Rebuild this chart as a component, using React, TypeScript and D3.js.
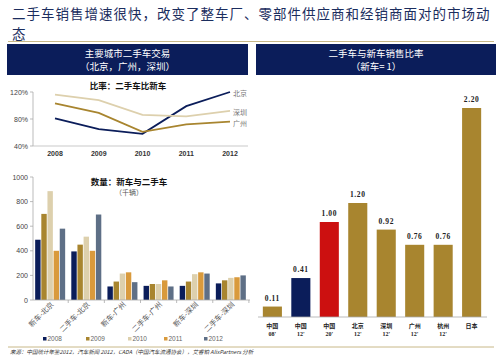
import React from "react";
import * as d3 from "d3";

const titleLine1 = "二手车销售增速很快，改变了整车厂、零部件供应商和经销商面对的市场动";
const titleLine2 = "态";

const years = ["2008", "2009", "2010", "2011", "2012"];
const ratioBeijing = [0.81, 0.65, 0.58, 0.99, 1.2];
const ratioShenzhen = [1.16, 1.08, 0.86, 0.84, 0.92];
const ratioGuangzhou = [1.03, 0.89, 0.61, 0.72, 0.76];
const ratioTicks = [0.4, 0.8, 1.2];

const volCategories = ["新车-北京", "二手车-北京", "新车-广州", "二手车-广州", "新车-深圳", "二手车-深圳"];
const vol2008 = [490, 395, 110, 115, 115, 135];
const vol2009 = [700, 450, 150, 130, 150, 160];
const vol2010 = [885, 515, 215, 130, 210, 180];
const vol2011 = [400, 400, 225, 160, 225, 185];
const vol2012 = [580, 695, 145, 110, 215, 200];
const volTicks = [0, 200, 400, 600, 800, 1000];

const ratioCats = ["中国|08'", "中国|12'", "中国|20'", "北京|12'", "深圳|12'", "广州|12'", "杭州|12'", "日本|"];
const ratioValues = [0.11, 0.41, 1.0, 1.2, 0.92, 0.76, 0.76, 2.2];
const ratioLabels = ["0.11", "0.41", "1.00", "1.20", "0.92", "0.76", "0.76", "2.20"];

const NAVY = "#0b1d5a";
const GOLD = "#a8852f";
const TAN = "#ddd0ad";
const ORANGE = "#d99a3c";
const SLATE = "#5e6f86";
const RED = "#cc1010";
const CJK = "'Noto Sans CJK SC', 'Noto Sans', sans-serif";
const SANS = "'Liberation Sans', Arial, sans-serif";
const SERIF = "'Liberation Serif', 'DejaVu Serif', serif";

export default function App() {
  const lx = d3.scalePoint<string>().domain(years).range([55, 230]);
  const ly = d3.scaleLinear().domain([0.4, 1.2]).range([146, 92]);
  const line = d3
    .line<number>()
    .x((_, i) => lx(years[i]) as number)
    .y((d) => ly(d));
  const lineSeries = [
    { name: "北京", vals: ratioBeijing, color: NAVY, ly: 93 },
    { name: "深圳", vals: ratioShenzhen, color: TAN, ly: 112 },
    { name: "广州", vals: ratioGuangzhou, color: GOLD, ly: 123 },
  ];

  const bx = d3.scaleBand<string>().domain(volCategories).range([33, 248]).paddingInner(0.17).paddingOuter(0.06);
  const bInner = d3.scaleBand<string>().domain(years).range([0, bx.bandwidth()]).paddingInner(0.12);
  const by = d3.scaleLinear().domain([0, 1000]).range([300, 177]);
  const volSeries = [vol2008, vol2009, vol2010, vol2011, vol2012];
  const volColors = [NAVY, GOLD, TAN, ORANGE, SLATE];
  const step = bx.step();

  const rx = d3.scaleBand<string>().domain(ratioCats).range([258, 486]).paddingInner(0.33).paddingOuter(0.17);
  const ry = d3.scaleLinear().domain([0, 1]).range([317, 222]);
  const rColors = ratioCats.map((_, i) => (i === 1 ? NAVY : i === 2 ? RED : GOLD));

  return (
    <svg width={500} height={357} style={{ display: "block", position: "absolute", left: 0, top: 0, background: "#fff" }}>
      <rect x={0} y={0} width={500} height={357} fill="#fff" />
      <text x={12} y={19} fontFamily={CJK} fontSize={13.5} letterSpacing={1} fill="#1b2d5e">{titleLine1}</text>
      <text x={12} y={38.7} fontFamily={CJK} fontSize={13.5} fill="#1b2d5e">{titleLine2}</text>
      <line x1={8} x2={494} y1={41.5} y2={41.5} stroke="#c8b888" strokeWidth={1.2} />

      <rect x={7} y={44} width={241} height={31} fill={NAVY} />
      <text x={127.5} y={57} textAnchor="middle" fontFamily={CJK} fontSize={9.5} fill="#fff">主要城市二手车交易</text>
      <text x={127.5} y={70} textAnchor="middle" fontFamily={CJK} fontSize={9.5} fill="#fff">（北京，广州，深圳）</text>
      <rect x={256} y={44} width={240} height={31} fill={NAVY} />
      <text x={376} y={57} textAnchor="middle" fontFamily={CJK} fontSize={9.5} fill="#fff">二手车与新车销售比率</text>
      <text x={376} y={70} textAnchor="middle" fontFamily={CJK} fontSize={9.5} fill="#fff">（新车= 1）</text>

      <text x={128} y={89} textAnchor="middle" fontFamily={CJK} fontWeight="bold" fontSize={8.5} fill="#111">比率：二手车比新车</text>
      <line x1={33} x2={33} y1={92} y2={146} stroke="#aaa" strokeWidth={0.8} />
      <line x1={33} x2={248} y1={146} y2={146} stroke="#bbb" strokeWidth={0.8} />
      {ratioTicks.map((t) => (
        <g key={t}>
          <line x1={30} x2={33} y1={ly(t)} y2={ly(t)} stroke="#aaa" strokeWidth={0.8} />
          <text x={28} y={ly(t) + 2.5} textAnchor="end" fontFamily={SANS} fontSize={7} fill="#444">{Math.round(t * 100) + "%"}</text>
        </g>
      ))}
      {years.map((y) => (
        <text key={y} x={lx(y)} y={156} textAnchor="middle" fontFamily={SANS} fontWeight="bold" fontSize={7} fill="#333">{y}</text>
      ))}
      {lineSeries.map((s) => (
        <g key={s.name}>
          <path d={line(s.vals) || ""} fill="none" stroke={s.color} strokeWidth={1.8} />
          <text x={233} y={s.ly + 2.5} fontFamily={CJK} fontSize={7} fill="#777">{s.name}</text>
        </g>
      ))}

      <text x={129} y={185} textAnchor="middle" fontFamily={CJK} fontWeight="bold" fontSize={8.5} fill="#111">数量：新车与二手车</text>
      <text x={129} y={195} textAnchor="middle" fontFamily={CJK} fontSize={7} fill="#555">（千辆）</text>
      <line x1={33} x2={33} y1={177} y2={300} stroke="#aaa" strokeWidth={0.8} />
      {volTicks.map((t) => (
        <g key={t}>
          <line x1={30} x2={33} y1={by(t)} y2={by(t)} stroke="#aaa" strokeWidth={0.8} />
          <text x={28} y={by(t) + 2.5} textAnchor="end" fontFamily={SANS} fontSize={7} fill="#444">{t}</text>
        </g>
      ))}
      {volCategories.map((c, ci) =>
        volSeries.map((vals, si) => (
          <rect
            key={c + si}
            x={(bx(c) as number) + (bInner(years[si]) as number)}
            y={by(vals[ci])}
            width={bInner.bandwidth()}
            height={300 - by(vals[ci])}
            fill={volColors[si]}
          />
        ))
      )}
      <line x1={33} x2={250} y1={300} y2={300} stroke="#aaa" strokeWidth={0.8} />
      {volCategories.map((c, ci) => {
        const bx0 = (bx(c) as number) - (step - bx.bandwidth()) / 2 + step;
        return <line key={"t" + ci} x1={bx0} x2={bx0} y1={300} y2={303} stroke="#aaa" strokeWidth={0.8} />;
      })}
      {volCategories.map((c) => {
        const cx = (bx(c) as number) + bx.bandwidth() / 2 + 4;
        return (
          <text key={c} transform={`translate(${cx},${305}) rotate(-45)`} textAnchor="end" fontFamily={CJK} fontSize={7.3} fill="#555">{c}</text>
        );
      })}
      {years.map((y, i) => {
        const lxs = [43, 86, 128, 164, 204][i];
        return (
          <g key={"lg" + y}>
            <rect x={lxs} y={337} width={3.5} height={3.5} fill={volColors[i]} />
            <text x={lxs + 4.5} y={341} fontFamily={SANS} fontSize={6.5} fill="#666">{y}</text>
          </g>
        );
      })}

      {ratioCats.map((c, i) => (
        <g key={c}>
          <rect x={rx(c)} y={ry(ratioValues[i])} width={rx.bandwidth()} height={317 - ry(ratioValues[i])} fill={rColors[i]} />
          <text x={(rx(c) as number) + rx.bandwidth() / 2} y={ry(ratioValues[i]) - 6} textAnchor="middle" fontFamily={SERIF} fontWeight="bold" fontSize={7.5} letterSpacing={0.6} fill="#222">{ratioLabels[i]}</text>
          <text x={(rx(c) as number) + rx.bandwidth() / 2} y={328} textAnchor="middle" fontFamily={CJK} fontWeight="bold" fontSize={6} fill="#222">{c.split("|")[0]}</text>
          <text x={(rx(c) as number) + rx.bandwidth() / 2} y={336} textAnchor="middle" fontFamily={SERIF} fontWeight="bold" fontSize={6} fill="#222">{c.split("|")[1]}</text>
        </g>
      ))}
      <line x1={258} x2={487} y1={317} y2={317} stroke="#aaa" strokeWidth={0.8} />

      <line x1={8} x2={494} y1={347} y2={347} stroke="#c8b888" strokeWidth={1} />
      <text x={10} y={354} fontFamily={CJK} fontStyle="italic" fontSize={5.5} fill="#333">来源：中国统计年鉴2012，汽车新闻 2012，CADA（中国汽车流通协会），艾睿铂 AlixPartners 分析</text>
    </svg>
  );
}
